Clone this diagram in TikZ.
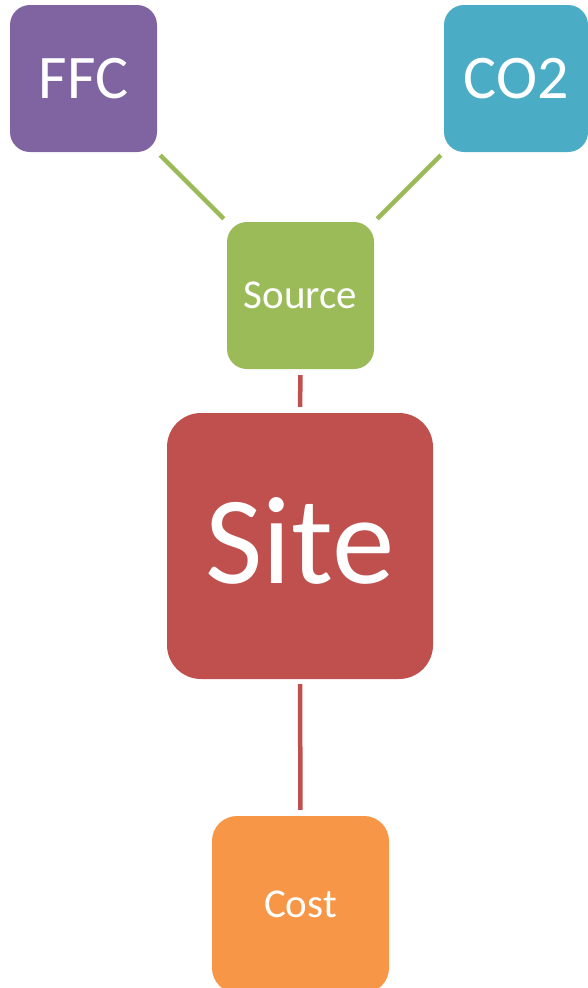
\documentclass[tikz,border=0pt]{standalone}
\usepackage{fontspec}
\setmainfont{Carlito}
\definecolor{cffc}{HTML}{8064A2}
\definecolor{cco}{HTML}{4BACC6}
\definecolor{csrc}{HTML}{9BBB59}
\definecolor{csite}{HTML}{C0504D}
\definecolor{ccost}{HTML}{F79646}
\begin{document}
\begin{tikzpicture}[x=1pt,y=-1pt,
  box/.style={rounded corners=#1, text=white, inner sep=0pt, anchor=center},
  glink/.style={draw=csrc, line width=4.5pt, shorten <=4.2pt, shorten >=4.2pt},
  rlink/.style={draw=csite, line width=4.5pt}]
\useasboundingbox (0,0) rectangle (587,988);
\node[box=20pt, fill=cffc, minimum width=147pt, minimum height=147pt, font=\fontsize{62}{62}\selectfont] (ffc) at (83.5,78.5) {FFC};
\node[box=20pt, fill=cco, minimum width=144pt, minimum height=147pt, font=\fontsize{62}{62}\selectfont] (co) at (516,78.5) {CO2};
\node[box=20pt, fill=csrc, minimum width=147pt, minimum height=147pt, font=\fontsize{41}{41}\selectfont] (src) at (300.5,295.5) {Source};
\node[box=34pt, fill=csite, minimum width=266pt, minimum height=266pt, text depth=12pt, font=\fontsize{125}{125}\selectfont] (site) at (300,546) {Site};
\node[box=25pt, fill=ccost, minimum width=177pt, minimum height=177pt, font=\fontsize{41}{41}\selectfont] (cost) at (300.5,904.5) {Cost};
\draw[glink] (ffc.south east) -- (src.north west);
\draw[glink] (co.south west) -- (src.north east);
\draw[rlink, shorten <=6pt, shorten >=6pt] (src.south) -- (site.north);
\draw[rlink, shorten <=5pt, shorten >=6pt] (site.south) -- (cost.north);
\end{tikzpicture}
\end{document}
